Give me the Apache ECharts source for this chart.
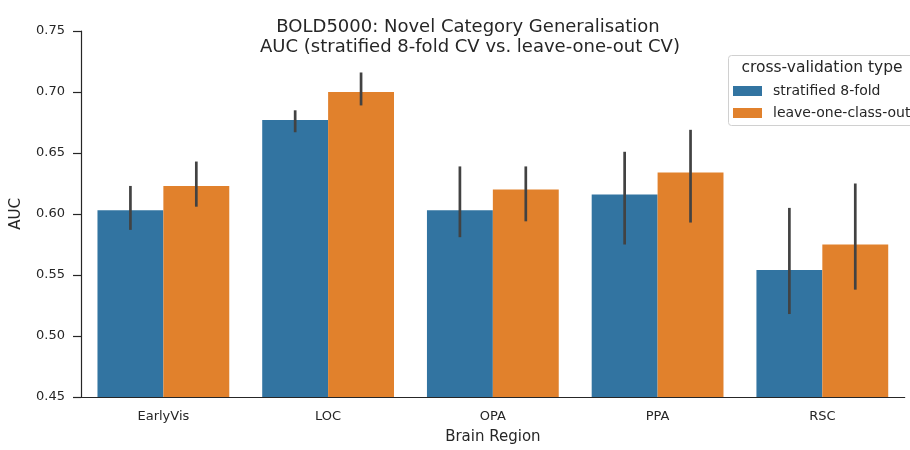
<!DOCTYPE html>
<html>
<head>
<meta charset="utf-8">
<script src="https://cdn.jsdelivr.net/npm/echarts@6/dist/echarts.min.js"></script>
<style>html,body{margin:0;padding:0;background:#fff;}#c{width:910px;height:450px;}</style>
</head>
<body>
<div id="c"></div>
<script>
const categories = ['EarlyVis', 'LOC', 'OPA', 'PPA', 'RSC'];
const seriesNames = ['stratified 8-fold', 'leave-one-class-out'];
const stratMean = [0.603, 0.677, 0.603, 0.616, 0.554];
const stratLow  = [0.587, 0.667, 0.581, 0.575, 0.518];
const stratHigh = [0.623, 0.685, 0.639, 0.651, 0.605];
const looMean = [0.623, 0.700, 0.620, 0.634, 0.575];
const looLow  = [0.606, 0.689, 0.594, 0.593, 0.538];
const looHigh = [0.643, 0.716, 0.639, 0.669, 0.625];
const yTicks = [0.45, 0.50, 0.55, 0.60, 0.65, 0.70, 0.75];

const chart = echarts.init(document.getElementById('c'), null, {renderer: 'canvas'});
const font = 'DejaVu Sans';
const txt = '#262626';

function errData(lo, hi, s) {
  return categories.map((c, i) => [i, lo[i], hi[i], s]);
}

function renderErr(params, api) {
  const i = api.value(0);
  const s = api.value(3);
  const band = api.size([1, 0])[0];
  const off = (s === 0 ? -1 : 1) * band * 0.2;
  const p1 = api.coord([i, api.value(1)]);
  const p2 = api.coord([i, api.value(2)]);
  return {
    type: 'line',
    shape: {x1: p1[0] + off, y1: p1[1], x2: p2[0] + off, y2: p2[1]},
    style: {stroke: '#424242', lineWidth: 2.7}
  };
}

chart.setOption({
  animation: false,
  backgroundColor: '#fff',
  textStyle: {fontFamily: font},
  graphic: [
    {type: 'text', x: 468, y: 27, style: {text: 'BOLD5000: Novel Category Generalisation', font: '18px "DejaVu Sans"', fill: txt, align: 'center', verticalAlign: 'middle'}},
    {type: 'text', x: 470, y: 47, style: {text: 'AUC (stratified 8-fold CV vs. leave-one-out CV)', font: '18px "DejaVu Sans"', fill: txt, align: 'center', verticalAlign: 'middle'}},
    {type: 'rect', shape: {x: 728.5, y: 55.5, width: 200, height: 70, r: 3}, style: {fill: 'rgba(255,255,255,0.8)', stroke: '#d0d0d0', lineWidth: 1}, z: 5},
    {type: 'text', x: 822, y: 68, style: {text: 'cross-validation type', font: '15.5px "DejaVu Sans"', fill: txt, align: 'center', verticalAlign: 'middle'}, z: 6}
  ],
  legend: {
    data: seriesNames,
    orient: 'vertical',
    left: 733,
    top: 84,
    padding: 0,
    itemWidth: 29,
    itemHeight: 10,
    itemGap: 8,
    icon: 'rect',
    z: 7,
    textStyle: {fontFamily: font, fontSize: 14, color: txt, padding: [0, 0, 0, 6]}
  },
  grid: {left: 81, right: 5.3, top: 31, bottom: 47.3, containLabel: false},
  xAxis: {
    type: 'category',
    data: categories,
    name: 'Brain Region',
    nameLocation: 'middle',
    nameGap: 33,
    nameTextStyle: {fontFamily: font, fontSize: 15, color: txt},
    axisLine: {lineStyle: {color: '#262626', width: 1.2}},
    axisTick: {alignWithLabel: true, length: 7, lineStyle: {color: '#262626', width: 1.2}},
    axisLabel: {fontFamily: font, fontSize: 13, color: txt, margin: 13},
    splitLine: {show: false}
  },
  yAxis: {
    type: 'value',
    min: 0.45,
    max: 0.75,
    interval: 0.05,
    name: 'AUC',
    nameLocation: 'middle',
    nameGap: 57,
    nameTextStyle: {fontFamily: font, fontSize: 15, color: txt},
    axisLine: {show: true, lineStyle: {color: '#262626', width: 1.2}},
    axisTick: {show: true, length: 8, lineStyle: {color: '#262626', width: 1.2}},
    axisLabel: {fontFamily: font, fontSize: 13, color: txt, margin: 16,
      formatter: v => yTicks.find(t => Math.abs(t - v) < 1e-9) !== undefined ? v.toFixed(2) : ''},
    splitLine: {show: false}
  },
  series: [
    {name: seriesNames[0], type: 'bar', data: stratMean, barGap: '0%', barCategoryGap: '20%',
      itemStyle: {color: '#3274a1'}},
    {name: seriesNames[1], type: 'bar', data: looMean, barGap: '0%', barCategoryGap: '20%',
      itemStyle: {color: '#e1812c'}},
    {type: 'custom', renderItem: renderErr, data: errData(stratLow, stratHigh, 0), encode: {x: 0, y: [1, 2]}, z: 10},
    {type: 'custom', renderItem: renderErr, data: errData(looLow, looHigh, 1), encode: {x: 0, y: [1, 2]}, z: 10}
  ]
});
</script>
</body>
</html>
